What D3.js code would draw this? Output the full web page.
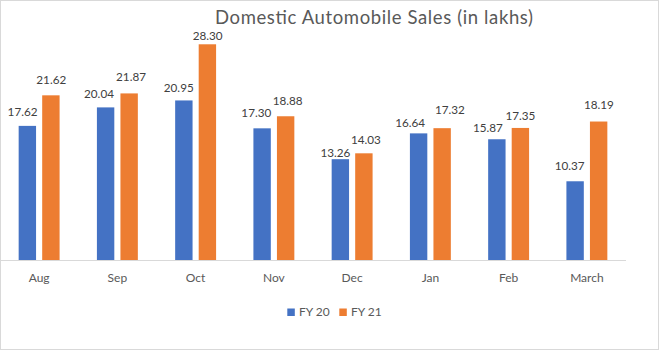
<!DOCTYPE html>
<html><head><meta charset="utf-8">
<script src="https://cdn.jsdelivr.net/npm/d3@7/dist/d3.min.js"></script>
<style>body{margin:0;background:#fff}svg{display:block}text{font-family:Lato,"Open Sans",sans-serif}</style>
</head><body><svg id="c" width="660" height="351"></svg>
<script>
const categories = ["Aug","Sep","Oct","Nov","Dec","Jan","Feb","March"];
const fy20 = [17.62,20.04,20.95,17.30,13.26,16.64,15.87,10.37];
const fy21 = [21.62,21.87,28.30,18.88,14.03,17.32,17.35,18.19];
const seriesNames = ["FY 20","FY 21"];
const colors = ["#4472C4","#ED7D31"];
// label placement nudges (layout only): horizontal shift and gap above bar
const labelDx = [[-4.8,-6.6,-5.1,-5.8,-4.9,-8.5,-8.9,-5.5],[0.4,1.9,0.2,2,2,7.7,0,0.3]];
const labelGap = [[10.3,9.4,8.3,11.6,2.5,6.6,7.6,11.7],[11,12.3,4.3,11.7,9,14.3,8.3,12.3]];

const svg = d3.select("#c");
svg.append("rect").attr("x",0.5).attr("y",0.5).attr("width",658).attr("height",349)
  .attr("fill","#fff").attr("stroke","#d9d9d9");

const x = d3.scaleBand().domain(categories).range([0,626]).paddingInner(0).paddingOuter(0);
const y = d3.scaleLinear().domain([0,30]).range([260.5,31.3]);
const groupW = 40, barW = 17.4;
const xs = d3.scaleBand().domain(seriesNames).range([0,groupW]).paddingInner(0.3);

svg.append("text").attr("x",374).attr("y",23.5).attr("text-anchor","middle")
  .attr("font-size",18.5).attr("fill","#595959")
  .attr("textLength",318).attr("lengthAdjust","spacing")
  .text("Domestic Automobile Sales (in lakhs)");

const data = [fy20, fy21];
seriesNames.forEach((s,si)=>{
  const g = svg.append("g");
  categories.forEach((c,i)=>{
    const bx = x(c) + (x.bandwidth()-groupW)/2 + xs(s) + (xs.bandwidth()-barW)/2;
    const v = data[si][i];
    g.append("rect").attr("x",bx).attr("y",y(v)).attr("width",barW).attr("height",y(0)-y(v))
      .attr("fill",colors[si]);
    g.append("text").attr("x",bx+barW/2+labelDx[si][i]).attr("y",y(v)-labelGap[si][i])
      .attr("text-anchor","middle")
      .attr("font-size",11.7).attr("fill","#404040").text(v.toFixed(2));
  });
});

svg.append("line").attr("x1",0).attr("x2",626).attr("y1",260.5).attr("y2",260.5)
  .attr("stroke","#d9d9d9").attr("stroke-width",1);

const xAxis = svg.append("g").attr("transform","translate(0,260.5)")
  .call(d3.axisBottom(x).tickSize(0).tickPadding(13));
xAxis.select(".domain").remove();
xAxis.selectAll("text").attr("font-size",12).attr("fill","#595959").style("font-family","Lato,sans-serif");

const leg = [[287.3,299],[339.3,351]];
seriesNames.forEach((s,i)=>{
  svg.append("rect").attr("x",leg[i][0]).attr("y",308.5).attr("width",7.5).attr("height",7.5).attr("fill",colors[i]);
  svg.append("text").attr("x",leg[i][1]).attr("y",315.5).attr("font-size",12).attr("fill","#595959").text(s);
});
</script></body></html>
